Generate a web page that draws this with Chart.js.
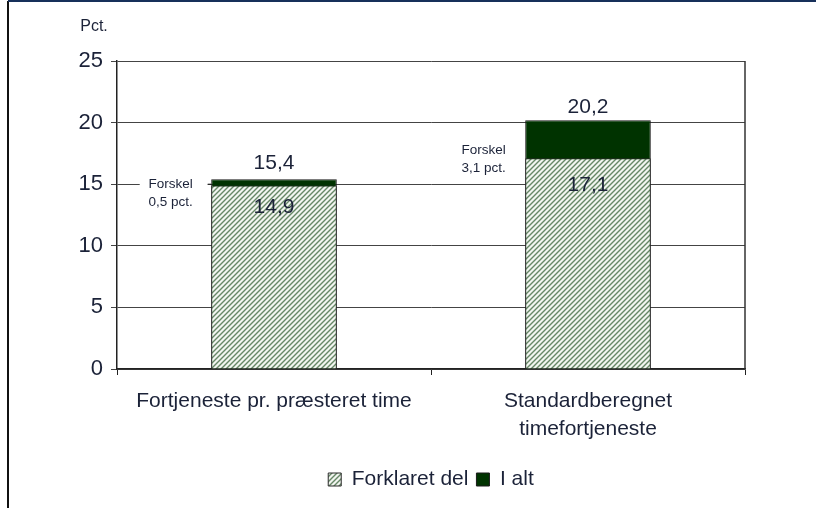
<!DOCTYPE html>
<html>
<head>
<meta charset="utf-8">
<script src="https://cdn.jsdelivr.net/npm/chart.js@4.4.1/dist/chart.umd.min.js"></script>
<style>
  html, body { margin: 0; padding: 0; background: #ffffff; }
  #wrap { width: 830px; height: 508px; position: relative; }
</style>
</head>
<body>
<div id="wrap"><canvas id="c" width="830" height="508"></canvas></div>
<script>
// ---- data ----
const categories = [["Fortjeneste pr. præsteret time"], ["Standardberegnet", "timefortjeneste"]];
const explained = [14.9, 17.1];      // Forklaret del
const total = [15.4, 20.2];          // I alt
const difference = [0.5, 3.1];       // Forskel (pct.)
const seriesNames = ["Forklaret del", "I alt"];
const yTicks = [0, 5, 10, 15, 20, 25];
const unitLabel = "Pct.";

const fmt = v => v.toFixed(1).replace('.', ',');

// hatch pattern
function makeHatch() {
  const s = 5;
  const pc = document.createElement('canvas');
  pc.width = s; pc.height = s;
  const p = pc.getContext('2d');
  p.fillStyle = '#f2f5f0';
  p.fillRect(0, 0, s, s);
  p.strokeStyle = '#668766';
  p.lineWidth = 1.4;
  p.beginPath();
  p.moveTo(0, s); p.lineTo(s, 0);
  p.moveTo(-1, 1); p.lineTo(1, -1);
  p.moveTo(s - 1, s + 1); p.lineTo(s + 1, s - 1);
  p.stroke();
  return document.getElementById('c').getContext('2d').createPattern(pc, 'repeat');
}
const hatch = makeHatch();

const textColor = '#1b2238';
const FONT = '"Liberation Sans", Arial, sans-serif';

const decor = {
  id: 'decor',
  beforeDraw(chart) {
    const ctx = chart.ctx;
    ctx.save();
    ctx.fillStyle = '#ffffff';
    ctx.fillRect(0, 0, chart.width, chart.height);
    // outer frame
    ctx.strokeStyle = '#111111';
    ctx.lineWidth = 2;
    ctx.beginPath();
    ctx.moveTo(8, 508); ctx.lineTo(8, 1);
    ctx.stroke();
    ctx.strokeStyle = '#17305a';
    ctx.lineWidth = 2;
    ctx.beginPath();
    ctx.moveTo(8, 1); ctx.lineTo(816, 1);
    ctx.stroke();
    ctx.restore();
  },
  afterDatasetsDraw(chart) {
    const ctx = chart.ctx;
    const y = chart.scales.y;
    const a = chart.chartArea;
    ctx.save();
    // right border of plot
    ctx.strokeStyle = '#333333';
    ctx.lineWidth = 1.5;
    ctx.beginPath();
    ctx.moveTo(a.right, a.top); ctx.lineTo(a.right, a.bottom);
    ctx.stroke();

    ctx.fillStyle = textColor;
    ctx.textAlign = 'center';
    ctx.textBaseline = 'middle';
    // unit label
    ctx.font = '16px ' + FONT;
    ctx.fillText(unitLabel, 94, 27);

    const topOffsets = [-16, -13];
    const insideOffsets = [22, 27];
    const metaE = chart.getDatasetMeta(0);
    for (let i = 0; i < categories.length; i++) {
      const bx = metaE.data[i].x;
      const bw = metaE.data[i].width;
      ctx.font = '21px ' + FONT;
      ctx.fillStyle = textColor;
      ctx.fillText(fmt(total[i]), bx, y.getPixelForValue(total[i]) + topOffsets[i]);
      ctx.fillText(fmt(explained[i]), bx, y.getPixelForValue(explained[i]) + insideOffsets[i]);
      // Forskel annotation
      const cy = i === 0 ? y.getPixelForValue(15) + 9 : y.getPixelForValue(explained[i]) + 1;
      const tx = i === 0 ? bx - bw / 2 - 40.5 : bx - bw / 2 - 41.5;
      if (i === 0) {
        ctx.fillStyle = '#ffffff';
        ctx.fillRect(tx - 31, cy - 18, 68, 36);
        ctx.strokeStyle = '#222';
        ctx.lineWidth = 1;
        ctx.beginPath();
        ctx.moveTo(tx + 37, y.getPixelForValue(15)); ctx.lineTo(bx - bw / 2, y.getPixelForValue(15));
        ctx.stroke();
      }
      ctx.fillStyle = textColor;
      ctx.font = '13.5px ' + FONT;
      ctx.fillText('Forskel', tx, cy - 9);
      ctx.fillText(fmt(difference[i]) + ' pct.', tx, cy + 9);
    }
    ctx.restore();
  }
};

new Chart(document.getElementById('c'), {
  type: 'bar',
  data: {
    labels: categories,
    datasets: [
      { label: seriesNames[0], data: explained, order: 1, backgroundColor: hatch,
        borderColor: '#2a2a2a', borderWidth: 1, barPercentage: 0.4, categoryPercentage: 1 },
      { label: seriesNames[1], data: total, order: 2, backgroundColor: '#003300',
        borderColor: '#1a1a1a', borderWidth: 1, barPercentage: 0.4, categoryPercentage: 1 }
    ]
  },
  options: {
    responsive: false,
    animation: false,
    devicePixelRatio: 1,
    layout: { padding: { top: 61, right: 85, left: 0, bottom: 8 } },
    plugins: {
      tooltip: { enabled: false },
      legend: {
        position: 'bottom',
        fullSize: false,
        labels: {
          color: textColor,
          font: { family: FONT, size: 21 },
          boxWidth: 13, boxHeight: 13, padding: 8
        }
      }
    },
    scales: {
      x: {
        stacked: true,
        offset: true,
        grid: { display: true, drawOnChartArea: false, tickLength: 6, color: '#222', offset: true },
        border: { color: '#222', width: 1.5 },
        ticks: { color: textColor, font: { family: FONT, size: 21, lineHeight: 1.33 }, padding: 12, maxRotation: 0 },
        afterFit(s) { s.height = 92; }
      },
      y: {
        stacked: false,
        min: 0, max: 25,
        afterBuildTicks(s) { s.ticks = yTicks.map(v => ({ value: v })); },
        grid: { color: '#444', lineWidth: 1, tickLength: 6, drawTicks: true },
        border: { color: '#222', width: 1.5 },
        ticks: { color: textColor, font: { family: FONT, size: 22 }, padding: 8 },
        afterFit(s) { s.width = 117; }
      }
    }
  },
  plugins: [decor]
});
</script>
</body>
</html>
